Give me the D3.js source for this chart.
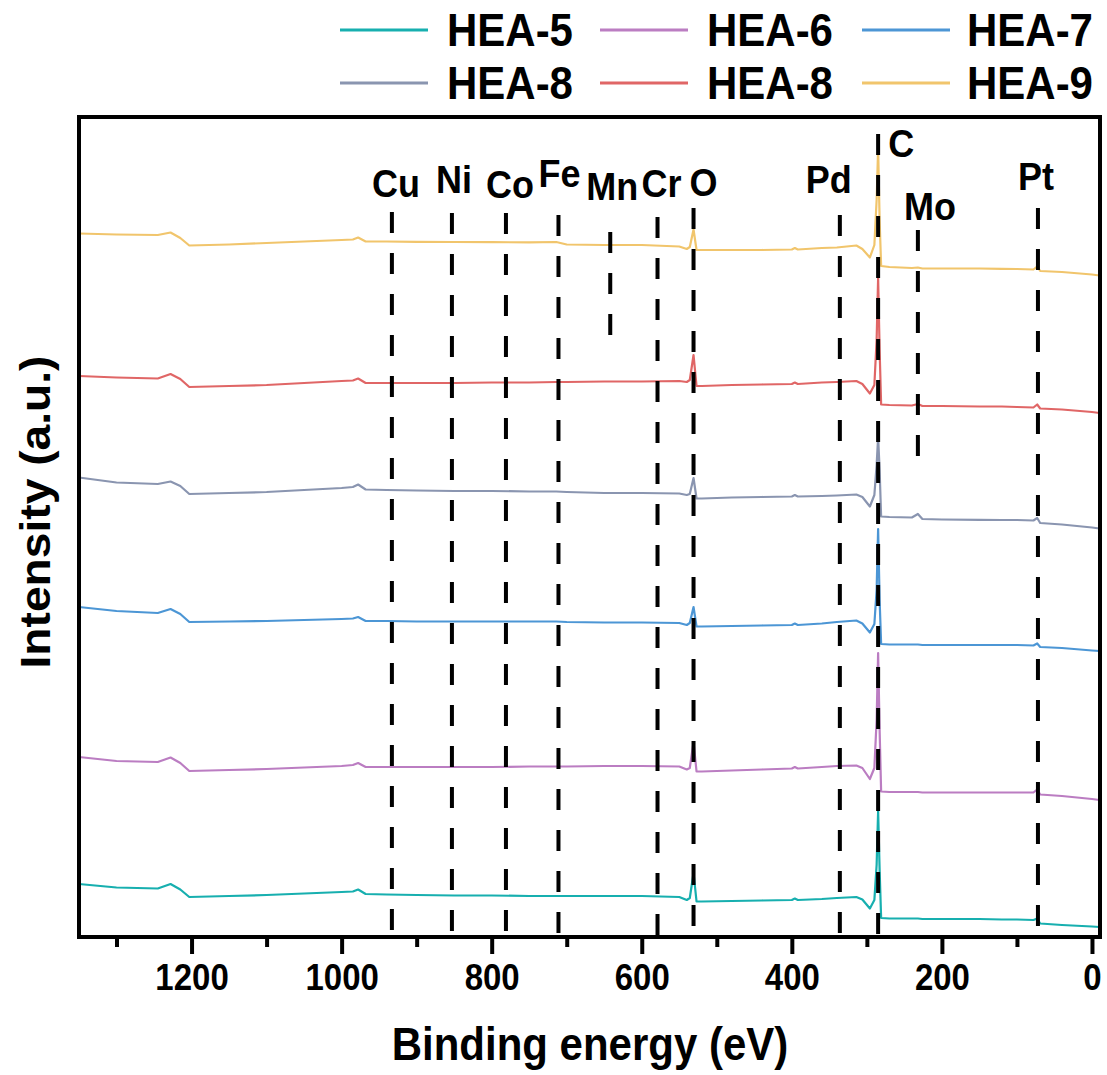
<!DOCTYPE html>
<html>
<head>
<meta charset="utf-8">
<script src="https://cdn.jsdelivr.net/npm/d3@7"></script>
<style>
body { margin: 0; background: #fff; }
text { font-family: Arial, "Liberation Sans", sans-serif; font-weight: bold; fill: #000; }
</style>
</head>
<body>
<svg id="chart" width="1107" height="1075"></svg>
<script>
'use strict';

// binding energy grid (eV), shared by all spectra
var energies = [1350, 1300, 1245, 1228, 1215, 1203, 1150, 1100, 1050, 1000, 985, 978, 968, 940, 900,
    850, 800, 750, 714, 700, 650, 600, 550, 540, 536, 531, 527, 520, 480, 440, 400, 396, 392, 360,
    340, 314, 306, 296, 290, 287, 285, 283, 281, 270, 240, 232, 226, 200, 150, 120, 100, 78, 73,
    69, 40, 0, -10];

// stacked intensities (a.u.)
var hea5 = [53, 49.5, 48.5, 53, 47.5, 40, 41, 42, 43.5, 45, 45.5, 47.5, 43, 42.5, 42,
    41.5, 41.5, 41, 41, 41, 41, 41, 40, 37, 39, 64, 35.5, 35.5, 36, 36.5, 37, 38.5, 37, 38,
    39, 40, 37.5, 28.5, 37, 72, 126, 67, 19, 18.5, 18.5, 18.5, 18, 18, 18, 17.5, 17.5, 17, 18.5,
    13.5, 12, 10.5, 10];
var hea6 = [180, 176, 175, 179.5, 174, 166, 167, 168, 169.5, 171, 172, 174, 170, 170, 170,
    170, 170, 170.5, 170.5, 170.5, 171, 171, 170.5, 167.5, 169, 195, 165.5, 165.5, 166.5, 167.5, 168.5, 170, 168.5, 170,
    171, 171.5, 169, 158, 169, 217, 284, 207, 145.5, 145, 145, 145, 144.5, 144.5, 144.5, 144.5, 144.5, 144.5, 147.5,
    142.5, 141, 138, 137];
var hea7 = [330, 326, 324, 328, 323, 315, 315.5, 316, 317, 318, 318.5, 320, 316, 316, 315.5,
    315.5, 315.5, 315.5, 315.5, 315, 314.5, 314.5, 314, 312, 314, 330, 310.5, 310.5, 311, 311.5, 312, 313.5, 312, 313.5,
    315, 316.5, 313.5, 304.5, 313, 347, 408, 337, 293, 292.5, 292.5, 292.5, 292, 292, 292, 292, 292, 291.5, 293.5,
    290, 289, 286.5, 286];
var hea8a = [459.5, 454.5, 453, 455.5, 451, 443, 444, 445, 447, 449, 450, 452.5, 447.5, 447, 446.5,
    446, 446, 445.5, 445.5, 445, 444, 444, 443.5, 442, 443, 459, 438.5, 438.5, 439.5, 440, 440.5, 442, 440.5, 441,
    441.5, 442.5, 440, 430.5, 442, 472, 500, 467, 420.5, 420, 419.5, 423, 418, 417.5, 417.2, 417, 417, 416.5, 419,
    414, 412.5, 409.5, 408.5];
var hea8b = [561, 559.5, 558.5, 563, 558, 550, 551, 552, 554, 556, 556.5, 558.5, 554, 554, 554,
    554, 554.5, 554.5, 555, 555, 555.5, 555.5, 556, 555, 557, 582, 551, 551, 552, 552.5, 553, 554.5, 553, 554.5,
    555, 556, 553, 543.5, 552, 597, 659, 587, 532.5, 532, 531.5, 533, 531, 531, 530.5, 530.5, 530, 529.5, 532.5,
    528.5, 527.5, 525, 524];
var hea9 = [703.5, 702.5, 702, 704.5, 699, 691.5, 692.5, 694, 695.5, 697, 697.5, 699.5, 695.5, 695.5, 695.2,
    695, 694.8, 694.7, 695, 692.5, 692, 692, 690.5, 688, 690, 707.5, 687, 687, 687, 687, 687.5, 689, 687.5, 689,
    689.5, 691.5, 688, 679.5, 692, 737, 788.5, 717, 671, 670, 669, 669.5, 668.5, 668.5, 668.5, 668.2, 668, 667.5, 670.5,
    666, 665, 662.5, 661.5];

var seriesNames = ['HEA-5', 'HEA-6', 'HEA-7', 'HEA-8', 'HEA-8', 'HEA-9'];
var seriesValues = [hea5, hea6, hea7, hea8a, hea8b, hea9];
var seriesColors = ['#17afaf', '#bb7dc2', '#4c96d5', '#8a95b0', '#e06666', '#f1c56c'];

// reference lines: element, energy (eV), intensity span of the dashed line
var elementNames = ['Cu', 'Ni', 'Co', 'Fe', 'Mn', 'Cr', 'O', 'Pd', 'C', 'Mo', 'Pt'];
var elementEnergies = [933, 853, 781, 711, 642, 579, 531, 336, 285, 232, 72];
var elementSpans = [[0, 725], [0, 724], [0, 724], [0, 722], [600, 705], [0, 720],
    [0, 729], [0, 722], [0, 803], [475, 707], [0, 729]];

var majorTicks = [0, 200, 400, 600, 800, 1000, 1200];
var minorTicks = [100, 300, 500, 700, 900, 1100, 1300];

// label placement (pixel offsets from the line)
var LABEL_DX = [4, 2, 4, 1, 2, 4, 10, -11, 23, 12, -2];
var LABEL_Y = [197, 193, 198, 187, 200, 197, 196, 193, 157, 220, 190];

var STRETCH = 1.1; // the reference text is a little taller than Arial
var FRAME = {left: 79, right: 1100, top: 117, bottom: 937};

var svg = d3.select('#chart');

var x = d3.scaleLinear().domain([1350, -10.7]).range([FRAME.left, FRAME.right]);
var y = d3.scaleLinear().domain([0, 820]).range([FRAME.bottom, FRAME.top]);

/*
 * Spectra
 */
var line = d3.line()
    .x(function(d) { return x(d[0]); })
    .y(function(d) { return y(d[1]); });

var traces = svg.append('g').attr('id', 'traces');
seriesValues.forEach(function(vals, i) {
    var pts = energies.map(function(e, k) { return [e, vals[k]]; });
    traces.append('path')
        .datum(pts)
        .attr('d', line)
        .style('fill', 'none')
        .style('stroke', seriesColors[i])
        .style('stroke-width', 2.2)
        .style('stroke-linejoin', 'round');
});

/*
 * Dashed element lines + labels
 */
var marks = svg.append('g').attr('id', 'elements');
elementNames.forEach(function(name, i) {
    var ex = x(elementEnergies[i]);
    marks.append('line')
        .attr('x1', ex).attr('x2', ex)
        .attr('y1', y(elementSpans[i][1]))
        .attr('y2', y(elementSpans[i][0]))
        .style('stroke', '#000')
        .style('stroke-width', 4)
        .style('stroke-dasharray', '21,20');
    marks.append('text')
        .attr('transform', 'translate(' + (ex + LABEL_DX[i]) + ',' + LABEL_Y[i] + ') scale(1,' + STRETCH + ')')
        .style('text-anchor', 'middle')
        .style('font-size', '36px')
        .text(name);
});

/*
 * Frame and axis
 */
svg.append('rect')
    .attr('x', FRAME.left).attr('y', FRAME.top)
    .attr('width', FRAME.right - FRAME.left)
    .attr('height', FRAME.bottom - FRAME.top)
    .style('fill', 'none')
    .style('stroke', '#000')
    .style('stroke-width', 4);

var minorAxis = svg.append('g')
    .attr('transform', 'translate(0,' + FRAME.bottom + ')')
    .call(d3.axisBottom(x).tickValues(minorTicks).tickSize(10).tickFormat(''));
minorAxis.select('.domain').remove();
minorAxis.selectAll('line').style('stroke-width', 4);

var majorAxis = svg.append('g')
    .attr('transform', 'translate(0,' + FRAME.bottom + ')')
    .call(d3.axisBottom(x).tickValues(majorTicks).tickSize(17).tickFormat(d3.format('d')));
majorAxis.select('.domain').remove();
majorAxis.selectAll('line').style('stroke-width', 4);
majorAxis.selectAll('text')
    .attr('y', 53 / STRETCH)
    .attr('dy', 0)
    .attr('transform', 'scale(1,' + STRETCH + ')')
    .style('font-size', '33px')
    .style('font-family', 'Arial, "Liberation Sans", sans-serif')
    .style('font-weight', 'bold')
    .style('fill', '#000');

// axis titles
svg.append('text')
    .attr('transform', 'translate(590,1060) scale(1,' + STRETCH + ')')
    .style('text-anchor', 'middle')
    .style('font-size', '42px')
    .text('Binding energy (eV)');

svg.append('text')
    .attr('transform', 'translate(50,512) rotate(-90) scale(' + STRETCH + ',1)')
    .style('text-anchor', 'middle')
    .style('font-size', '42px')
    .text('Intensity (a.u.)');

/*
 * Legend, 3 columns x 2 rows
 */
var LEG_LINE_X = [340, 600, 862];
var LEG_TEXT_X = [447, 707, 967];
var LEG_ROW_Y = [30, 83];
var legend = svg.append('g').attr('id', 'legend');
seriesNames.forEach(function(name, i) {
    var col = i % 3, row = Math.floor(i / 3);
    legend.append('line')
        .attr('x1', LEG_LINE_X[col]).attr('x2', LEG_LINE_X[col] + 88)
        .attr('y1', LEG_ROW_Y[row]).attr('y2', LEG_ROW_Y[row])
        .style('stroke', seriesColors[i])
        .style('stroke-width', 3);
    legend.append('text')
        .attr('transform', 'translate(' + LEG_TEXT_X[col] + ',' + (LEG_ROW_Y[row] + 16) + ') scale(1,' + STRETCH + ')')
        .style('font-size', '42px')
        .text(name);
});
</script>
</body>
</html>
